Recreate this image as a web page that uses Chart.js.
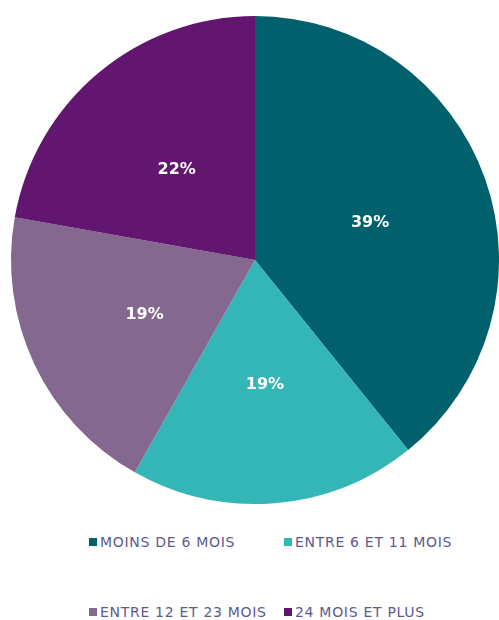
<!DOCTYPE html>
<html>
<head>
<meta charset="utf-8">
<script src="https://cdn.jsdelivr.net/npm/chart.js@4"></script>
<style>
  body { margin: 0; background: #fff; font-family: "DejaVu Sans", Verdana, sans-serif; }
  #wrap { position: relative; width: 499px; height: 620px; }
  #pieBox { position: absolute; left: 0; top: 0; width: 499px; height: 520px; }
  .leg { position: absolute; font-size: 14px; letter-spacing: 0.7px; color: #5d5a8e; white-space: nowrap; line-height: 16px; }
  .leg span { display: inline-block; width: 8px; height: 8px; margin-right: 3px; vertical-align: 1px; }
</style>
</head>
<body>
<div id="wrap">
  <div id="pieBox"><canvas id="pie"></canvas></div>
  <div id="legend"></div>
</div>
<script>
// données
const categories = ["MOINS DE 6 MOIS", "ENTRE 6 ET 11 MOIS", "ENTRE 12 ET 23 MOIS", "24 MOIS ET PLUS"];
const values = [39.2, 19.0, 19.6, 22.2];
const valueLabels = ["39%", "19%", "19%", "22%"];
const colors = ["#00606b", "#33b6b5", "#84688f", "#62166f"];

// légende HTML (2 lignes, 2 colonnes)
const legendPos = [[89, 534], [284, 534], [89, 604], [284, 604]];
const legend = document.getElementById("legend");
categories.forEach((c, i) => {
  const d = document.createElement("div");
  d.className = "leg";
  d.style.left = legendPos[i][0] + "px";
  d.style.top = legendPos[i][1] + "px";
  d.innerHTML = '<span style="background:' + colors[i] + '"></span>' + c;
  legend.appendChild(d);
});

// étiquettes de pourcentage au centre de chaque part
const sliceLabels = {
  id: "sliceLabels",
  afterDatasetsDraw(chart) {
    const ctx = chart.ctx;
    const meta = chart.getDatasetMeta(0);
    ctx.save();
    ctx.fillStyle = "#ffffff";
    ctx.font = "bold 16px 'DejaVu Sans', Verdana, sans-serif";
    ctx.textAlign = "center";
    ctx.textBaseline = "middle";
    meta.data.forEach((arc, i) => {
      const p = arc.tooltipPosition();
      ctx.fillText(valueLabels[i], p.x, p.y + 3);
    });
    ctx.restore();
  }
};

new Chart(document.getElementById("pie"), {
  type: "pie",
  data: {
    labels: categories,
    datasets: [{
      data: values,
      backgroundColor: colors,
      borderWidth: 0
    }]
  },
  options: {
    responsive: true,
    maintainAspectRatio: false,
    animation: false,
    layout: { padding: { left: 11, right: 0, top: 15, bottom: 15 } },
    plugins: {
      legend: { display: false },
      tooltip: { enabled: false }
    }
  },
  plugins: [sliceLabels]
});
</script>
</body>
</html>
